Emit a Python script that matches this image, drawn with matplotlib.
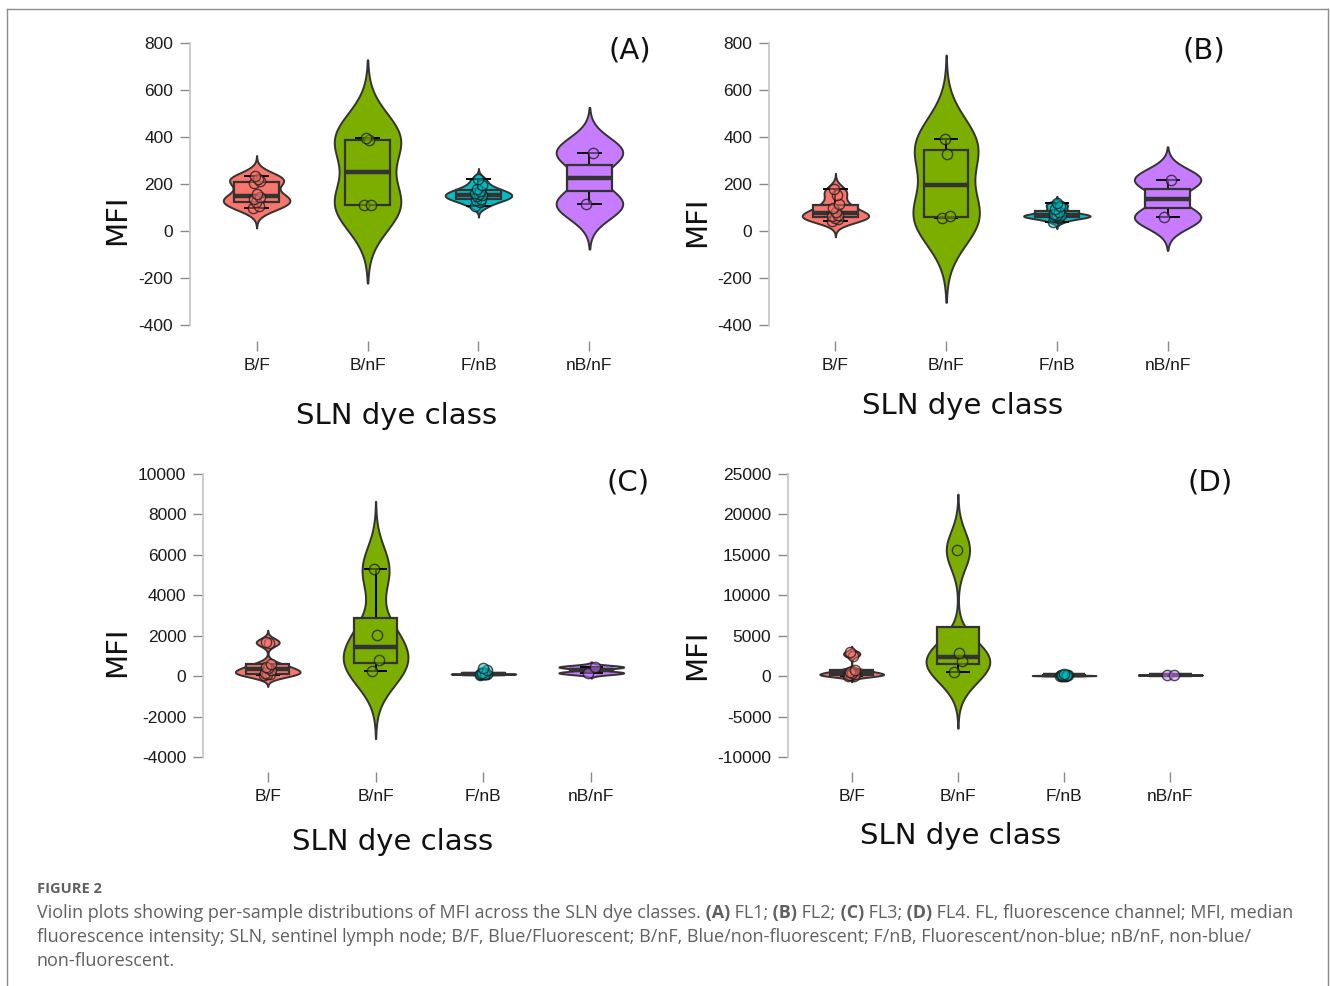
import numpy as np
import matplotlib
matplotlib.use("Agg")
import matplotlib.pyplot as plt
from matplotlib.patches import Rectangle
from matplotlib.lines import Line2D

W, H = 1330, 986

classes = ["B/F", "B/nF", "F/nB", "nB/nF"]
class_colors = ["#F8766D", "#7CAE00", "#00BFC4", "#C77CFF"]

# per-sample MFI values
fl1_bf = [99, 107, 122, 135, 145, 157, 205, 212, 222, 235]
fl1_bnf = [110, 112, 386, 397]
fl1_fnb = [105, 125, 133, 137, 147, 152, 156, 162, 172, 178, 195, 220]
fl1_nbnf = [115, 334]

fl2_bf = [44, 52, 57, 62, 70, 80, 98, 117, 155, 177]
fl2_bnf = [55, 62, 327, 390]
fl2_fnb = [40, 55, 58, 60, 63, 66, 68, 72, 80, 95, 108, 118]
fl2_nbnf = [58, 218]

fl3_bf = [60, 90, 120, 160, 280, 380, 450, 620, 1640, 1700]
fl3_bnf = [277, 787, 2060, 5279]
fl3_fnb = [70, 85, 92, 98, 104, 110, 115, 122, 130, 180, 290, 380]
fl3_nbnf = [160, 450]

fl4_bf = [40, 70, 110, 180, 300, 420, 560, 760, 2550, 2950]
fl4_bnf = [470, 1905, 2895, 15600]
fl4_fnb = [30, 45, 55, 60, 70, 80, 90, 100, 110, 130, 160, 220]
fl4_nbnf = [120, 160]

panel_labels = ["(A)", "(B)", "(C)", "(D)"]
yticks_ab = [-400, -200, 0, 200, 400, 600, 800]
yticks_c = [-4000, -2000, 0, 2000, 4000, 6000, 8000, 10000]
yticks_d = [-10000, -5000, 0, 5000, 10000, 15000, 20000, 25000]


def nrd0(x):
    x = np.asarray(x, float)
    sd = np.std(x, ddof=1)
    iqr = np.subtract(*np.percentile(x, [75, 25]))
    lo = min(sd, iqr / 1.34)
    if lo <= 0:
        lo = sd if sd > 0 else abs(x[0]) or 1.0
    return 0.9 * lo * len(x) ** -0.2


def draw_group(ax, pos, vals, color):
    vals = np.asarray(vals, float)
    bw = nrd0(vals)
    grid = np.linspace(vals.min() - 3 * bw, vals.max() + 3 * bw, 512)
    dens = np.exp(-0.5 * ((grid[:, None] - vals[None, :]) / bw) ** 2).sum(axis=1)
    dens = dens / dens.max() * 0.3
    ax.fill_betweenx(grid, pos - dens, pos + dens, facecolor=color,
                     edgecolor="#333333", linewidth=1.4, zorder=1)

    q1, med, q3 = np.percentile(vals, [25, 50, 75])
    iqr = q3 - q1
    lo = vals[vals >= q1 - 1.5 * iqr].min()
    hi = vals[vals <= q3 + 1.5 * iqr].max()
    ax.plot([pos, pos], [lo, hi], color="black", lw=1.4, zorder=2)
    ax.plot([pos - 0.1, pos + 0.1], [lo, lo], color="black", lw=1.4, zorder=2)
    ax.plot([pos - 0.1, pos + 0.1], [hi, hi], color="black", lw=1.4, zorder=2)
    ax.add_patch(Rectangle((pos - 0.2, q1), 0.4, iqr, facecolor=color,
                           edgecolor="#333333", lw=1.6, zorder=3))
    ax.plot([pos - 0.2, pos + 0.2], [med, med], color="#333333", lw=3.2,
            solid_capstyle="butt", zorder=3)

    n = len(vals)
    idx = (np.arange(n) * 7) % n
    offs = (idx / max(n - 1, 1) - 0.5) * 0.07
    rgba = matplotlib.colors.to_rgba(color, 0.5)
    ax.scatter(pos + offs, vals, s=55, facecolors=[rgba], edgecolors=[(0.1, 0.1, 0.1, 0.75)],
               linewidths=1.0, zorder=4)


def px(x, y):
    return x / W, 1 - y / H


fig = plt.figure(figsize=(W / 100, H / 100), dpi=100)

panels = [
    dict(groups=[fl1_bf, fl1_bnf, fl1_fnb, fl1_nbnf], box=(190, 656), ticks=yticks_ab,
         tpx=(43, 325), top=28, bottom=341, ylab=(117, 220), xlab=(397, 416), lab=(630, 50)),
    dict(groups=[fl2_bf, fl2_bnf, fl2_fnb, fl2_nbnf], box=(769, 1234), ticks=yticks_ab,
         tpx=(43, 325), top=28, bottom=341, ylab=(697, 222), xlab=(963, 406), lab=(1204, 50)),
    dict(groups=[fl3_bf, fl3_bnf, fl3_fnb, fl3_nbnf], box=(203, 656), ticks=yticks_c,
         tpx=(474, 757), top=460, bottom=772, ylab=(117, 652), xlab=(393, 842), lab=(628, 482)),
    dict(groups=[fl4_bf, fl4_bnf, fl4_fnb, fl4_nbnf], box=(788, 1234), ticks=yticks_d,
         tpx=(474, 757), top=460, bottom=772, ylab=(697, 655), xlab=(961, 836), lab=(1210, 482)),
]

for p, label in zip(panels, panel_labels):
    left, right = p["box"]
    ax = fig.add_axes([left / W, 1 - p["bottom"] / H, (right - left) / W, (p["bottom"] - p["top"]) / H])
    vtop, vbot = p["ticks"][-1], p["ticks"][0]
    ytp, ybp = p["tpx"]
    s = (vtop - vbot) / (ybp - ytp)
    ax.set_ylim(vbot - (p["bottom"] - ybp) * s, vtop + (ytp - p["top"]) * s)
    ax.set_xlim(0.4, 4.6)

    for i, (vals, col) in enumerate(zip(p["groups"], class_colors)):
        draw_group(ax, i + 1, vals, col)

    ax.set_xticks(range(1, 5))
    ax.set_xticklabels(classes)
    ax.set_yticks(p["ticks"])
    ax.set_yticklabels([str(t) for t in p["ticks"]])
    for sp in ["top", "right", "bottom"]:
        ax.spines[sp].set_visible(False)
    ax.spines["left"].set_bounds(vbot, vtop)
    ax.spines["left"].set_color("#c8c8c8")
    ax.spines["left"].set_linewidth(1.3)
    ax.tick_params(axis="both", length=7, width=1, color="#8a8a8a", labelsize=12.5,
                   labelcolor="#1a1a1a", pad=5)
    for t in ax.get_xticklabels() + ax.get_yticklabels():
        t.set_fontfamily("Liberation Sans")
    ax.patch.set_alpha(0)

    fig.text(*px(*p["ylab"]), "MFI", rotation=90, ha="center", va="center",
             fontsize=21, family="DejaVu Sans", color="#111111")
    fig.text(*px(*p["xlab"]), "SLN dye class", ha="center", va="center",
             fontsize=21, family="DejaVu Sans", color="#111111")
    fig.text(*px(*p["lab"]), label, ha="center", va="center",
             fontsize=21, family="DejaVu Sans", color="#111111")

# frame around the figure
frame_col = "#8c8c8c"
fig.add_artist(Line2D([7 / W, 1328 / W], [1 - 9 / H, 1 - 9 / H], color=frame_col, lw=1))
fig.add_artist(Line2D([7 / W, 7 / W], [1 - 9 / H, 0], color=frame_col, lw=1))
fig.add_artist(Line2D([1328 / W, 1328 / W], [1 - 9 / H, 0], color=frame_col, lw=1))

cap_col = "#606060"
fig.text(*px(37, 889), "FIGURE 2", fontsize=10.5, fontweight="bold", family="Open Sans",
         color=cap_col, ha="left", va="center")

renderer = fig.canvas.get_renderer()


def rich_line(x, y, parts, size=13):
    for txt, bold in parts:
        t = fig.text(*px(x, y), txt, fontsize=size, family="Open Sans",
                     fontweight="bold" if bold else "normal", color=cap_col,
                     ha="left", va="center")
        x += t.get_window_extent(renderer=renderer).width


rich_line(37, 913, [
    ("Violin plots showing per-sample distributions of MFI across the SLN dye classes.", False),
    (" (A)", True), (" FL1;", False), (" (B)", True), (" FL2;", False),
    (" (C)", True), (" FL3;", False), (" (D)", True),
    (" FL4. FL, fluorescence channel; MFI, median", False)])
rich_line(37, 937, [("fluorescence intensity; SLN, sentinel lymph node; B/F, Blue/Fluorescent; "
                     "B/nF, Blue/non-fluorescent; F/nB, Fluorescent/non-blue; nB/nF, non-blue/", False)])
rich_line(37, 961, [("non-fluorescent.", False)])

fig.savefig("out.png", dpi=100)
